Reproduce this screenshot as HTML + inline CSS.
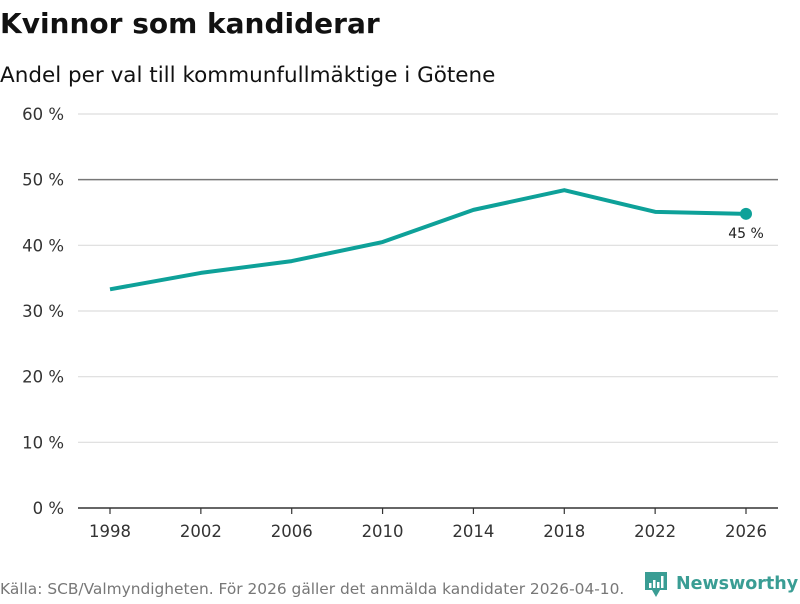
<!DOCTYPE html>
<html><head><meta charset="utf-8"><style>
body{margin:0;width:800px;height:600px;background:#fff;font-family:"DejaVu Sans","Liberation Sans",sans-serif;overflow:hidden}
</style></head><body>
<svg width="800" height="600" id="svg" xmlns="http://www.w3.org/2000/svg">
<text x="0" y="33" font-size="28" font-weight="bold" fill="#111">Kvinnor som kandiderar</text>
<text x="0" y="82" font-size="21.5" fill="#111">Andel per val till kommunfullmäktige i Götene</text>
<text x="0" y="594" font-size="15.4" fill="#777">Källa: SCB/Valmyndigheten. För 2026 gäller det anmälda kandidater 2026-04-10.</text>
<g>
<path d="M645 572 h22 v18 h-7 l-4 7 l-4 -7 h-7 z" fill="#3a9d94"/>
<rect x="649" y="583" width="2.5" height="5" fill="#fff"/><rect x="653" y="580" width="2.5" height="8" fill="#fff"/><rect x="657" y="582" width="2.5" height="6" fill="#fff"/><rect x="661" y="576" width="2.5" height="12" fill="#fff"/>
<text x="676" y="589" font-size="17.5" font-weight="bold" fill="#3a9d94">Newsworthy</text>
</g>
<g id="grid"></g><g id="xaxis"></g><g id="series"></g>
</svg>
<script>
const years=[1998,2002,2006,2010,2014,2018,2022,2026];
const values=[33.3,35.8,37.6,40.5,45.4,48.4,45.1,44.8];
const yTicks=[0,10,20,30,40,50,60];
const ns="http://www.w3.org/2000/svg";
const xS=y=>110+(y-1998)*(636/28);
const yS=v=>508-v*(394/60);
function mk(t,a,p){const e=document.createElementNS(ns,t);for(const k in a)e.setAttribute(k,a[k]);p.appendChild(e);return e;}
const grid=document.getElementById('grid');
yTicks.forEach(t=>{
 const y=yS(t);
 if(t>0){const l=mk('line',{x1:78,x2:778,y1:y,y2:y,stroke:t==50?'#777':'#ddd','stroke-width':t==50?1.5:1.2},grid);
 
 }
 const tx=mk('text',{x:64,y:y+6,'text-anchor':'end','font-size':16.5,fill:'#333'},grid);tx.textContent=t+' %';
 
 
});
const xa=document.getElementById('xaxis');
const base=mk('line',{x1:78,x2:778,y1:508,y2:508,stroke:'#333','stroke-width':1.5},xa);


years.forEach(yr=>{
 const x=xS(yr);
 mk('line',{x1:x,x2:x,y1:508,y2:514,stroke:'#333','stroke-width':1.2},xa);
 const tx=mk('text',{x:x,y:537,'text-anchor':'middle','font-size':16.5,fill:'#333'},xa);tx.textContent=yr;
 
 
});
const s=document.getElementById('series');
const pl=mk('polyline',{points:years.map((y,i)=>xS(y)+','+yS(values[i])).join(' '),fill:'none',stroke:'#0ea199','stroke-width':4,'stroke-linejoin':'round'},s);


const n=years.length-1;
const c=mk('circle',{cx:xS(years[n]),cy:yS(values[n]),r:6,fill:'#0ea199'},s);


const lb=mk('text',{x:xS(years[n]),y:yS(values[n])+24,'text-anchor':'middle','font-size':14,fill:'#222'},s);
lb.textContent=Math.round(values[n])+' %';


</script>
</body></html>
